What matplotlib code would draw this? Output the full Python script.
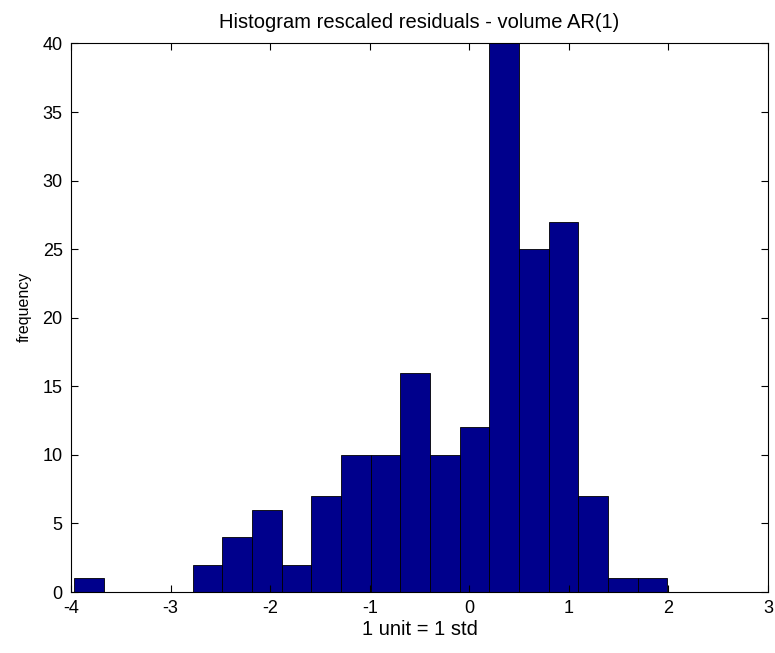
import numpy as np
import matplotlib.pyplot as plt

plt.rcParams['font.family'] = ['Liberation Sans', 'DejaVu Sans']
plt.rcParams['axes.unicode_minus'] = False

# histogram of rescaled residuals (20 bins)
bin_lo = -3.97
bin_hi = 1.99
counts = [1, 0, 0, 0, 2, 4, 6, 2, 7, 10, 10, 16, 10, 12, 40, 25, 27, 7, 1, 1]
x_ticks = [-4, -3, -2, -1, 0, 1, 2, 3]
y_ticks = [0, 5, 10, 15, 20, 25, 30, 35, 40]

edges = np.linspace(bin_lo, bin_hi, len(counts) + 1)

fig = plt.figure(figsize=(7.75, 6.53), dpi=100)
ax = fig.add_axes([0.0916, 0.0934, 0.8994, 0.840])

ax.bar(edges[:-1], counts, width=np.diff(edges), align='edge',
       color='#00008C', edgecolor='black', linewidth=0.6)

ax.set_xlim(-4, 3)
ax.set_ylim(0, 40)
ax.set_xticks(x_ticks)
ax.set_yticks(y_ticks)
ax.tick_params(direction='in', top=True, right=True, length=5, width=0.8,
               labelsize=13, pad=6)
for s in ax.spines.values():
    s.set_linewidth(0.8)

ax.set_title('Histogram rescaled residuals - volume AR(1)', fontsize=14.5, pad=11)
ax.set_xlabel('1 unit = 1 std', fontsize=14.5, labelpad=2)
ax.set_ylabel('frequency', fontsize=11.5, labelpad=8, y=0.52)

fig.savefig('out.png', dpi=100, facecolor='white')
